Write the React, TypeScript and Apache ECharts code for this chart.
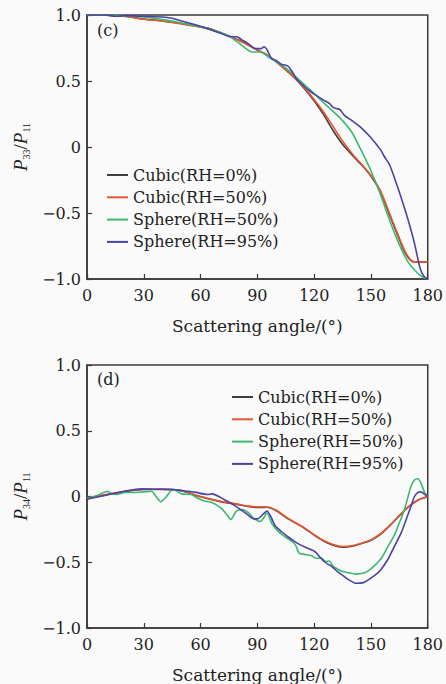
import React, { useEffect, useRef } from 'react';
import * as echarts from 'echarts';

// ---------- axis ticks / names ----------
const xTickInterval = 30;
const xMin = 0;
const xMax = 180;
const yMin = -1;
const yMax = 1;
const yTickInterval = 0.5;
const xAxisTitle = 'Scattering angle/(°)';
const panelLabels = ['(c)', '(d)'];
const seriesNames = ['Cubic(RH=0%)', 'Cubic(RH=50%)', 'Sphere(RH=50%)', 'Sphere(RH=95%)'];

// ---------- panel (c): P33/P11 ----------
const p33CubicDryAngles = [0, 10, 20, 30, 40, 50, 60, 65, 70, 76, 80, 85, 90, 95, 100, 105, 110, 115, 120, 125, 130, 135, 140, 145, 150, 155, 160, 165, 168, 171, 173, 180];
const p33CubicDryValues = [1.0, 0.998, 0.99, 0.97, 0.955, 0.935, 0.91, 0.895, 0.87, 0.836, 0.81, 0.775, 0.735, 0.7, 0.645, 0.585, 0.52, 0.44, 0.35, 0.245, 0.125, 0.02, -0.06, -0.135, -0.22, -0.34, -0.52, -0.7, -0.8, -0.86, -0.87, -0.87];

const p33CubicWetAngles = [0, 10, 20, 30, 40, 50, 60, 65, 70, 76, 80, 85, 90, 95, 100, 105, 110, 115, 120, 125, 130, 135, 140, 145, 150, 155, 160, 165, 168, 171, 173, 180];
const p33CubicWetValues = [1.0, 0.998, 0.99, 0.968, 0.953, 0.933, 0.908, 0.893, 0.868, 0.834, 0.808, 0.773, 0.733, 0.698, 0.645, 0.585, 0.52, 0.445, 0.36, 0.265, 0.155, 0.045, -0.05, -0.13, -0.215, -0.33, -0.51, -0.69, -0.79, -0.855, -0.87, -0.87];

const p33SphereWetAngles = [0, 10, 20, 30, 40, 50, 60, 70, 75, 80, 84, 87, 92, 96, 100, 105, 110, 115, 120, 125, 130, 135, 140, 145, 150, 155, 160, 165, 170, 175, 178, 180];
const p33SphereWetValues = [1.0, 1.0, 0.995, 0.985, 0.965, 0.94, 0.91, 0.87, 0.84, 0.79, 0.745, 0.72, 0.72, 0.68, 0.645, 0.6, 0.535, 0.47, 0.405, 0.335, 0.27, 0.2, 0.11, -0.03, -0.18, -0.36, -0.56, -0.74, -0.88, -0.96, -0.99, -1.0];

const p33SphereHumidAngles = [0, 10, 15, 20, 30, 40, 45, 50, 60, 70, 76, 79, 82, 85, 88, 90, 92, 93.5, 95, 97.5, 100, 103, 106, 108, 111, 114, 117, 120, 125, 128, 130, 132, 133.5, 136, 140, 143, 146, 150, 155, 157, 160, 164, 167, 170, 173, 176, 178, 180];
const p33SphereHumidValues = [1.0, 1.0, 0.99, 0.995, 0.99, 0.985, 0.975, 0.955, 0.915, 0.865, 0.835, 0.835, 0.81, 0.785, 0.75, 0.745, 0.745, 0.76, 0.74, 0.67, 0.655, 0.625, 0.615, 0.58, 0.51, 0.47, 0.43, 0.4, 0.355, 0.33, 0.3, 0.29, 0.285, 0.24, 0.2, 0.167, 0.13, 0.07, -0.02, -0.07, -0.14, -0.3, -0.43, -0.57, -0.73, -0.92, -0.98, -1.0];

// ---------- panel (d): P34/P11 ----------
const p34CubicDryAngles = [0, 10, 20, 30, 40, 45, 50, 60, 70, 80, 85, 90, 95, 100, 105, 110, 115, 120, 125, 130, 135, 140, 145, 150, 155, 160, 165, 170, 175, 180];
const p34CubicDryValues = [-0.015, 0.012, 0.038, 0.053, 0.055, 0.052, 0.043, -0.002, -0.037, -0.062, -0.075, -0.083, -0.082, -0.108, -0.158, -0.2, -0.243, -0.293, -0.338, -0.37, -0.385, -0.378, -0.357, -0.332, -0.287, -0.222, -0.147, -0.077, -0.027, -0.002];

const p34CubicWetAngles = [0, 10, 20, 30, 40, 45, 50, 60, 70, 80, 85, 90, 95, 100, 105, 110, 115, 120, 125, 130, 135, 140, 145, 150, 155, 160, 165, 170, 175, 180];
const p34CubicWetValues = [-0.01, 0.015, 0.04, 0.055, 0.055, 0.053, 0.045, 0.0, -0.035, -0.06, -0.073, -0.08, -0.08, -0.105, -0.155, -0.2, -0.24, -0.29, -0.335, -0.365, -0.38, -0.375, -0.355, -0.33, -0.285, -0.22, -0.145, -0.075, -0.025, 0.0];

const p34SphereWetAngles = [0, 5, 11, 13, 15.5, 20, 25, 30, 34, 37, 39, 42, 45, 47, 50, 55, 58, 62, 66, 71, 74, 76, 79, 82, 85, 88, 91.5, 93.5, 95, 97.8, 100, 103, 106, 109, 110.5, 112, 115, 118.7, 121, 124, 126, 128, 130, 132.7, 135, 138, 142, 146.7, 150, 153, 155.5, 159, 162.5, 165, 167.7, 170, 171.2, 173, 174.7, 176.5, 178.2, 180];
const p34SphereWetValues = [-0.015, 0.005, 0.04, 0.02, 0.015, 0.03, 0.03, 0.035, 0.04, -0.01, -0.04, 0.0, 0.05, 0.045, 0.02, 0.015, -0.01, -0.035, -0.045, -0.09, -0.14, -0.175, -0.11, -0.1, -0.12, -0.165, -0.19, -0.16, -0.125, -0.21, -0.25, -0.29, -0.32, -0.35, -0.38, -0.43, -0.44, -0.45, -0.47, -0.47, -0.495, -0.49, -0.53, -0.555, -0.57, -0.58, -0.59, -0.58, -0.55, -0.51, -0.47, -0.38, -0.29, -0.2, -0.1, 0.02, 0.08, 0.125, 0.135, 0.1, 0.035, 0.0];

const p34SphereHumidAngles = [0, 10, 20, 28.7, 35, 44.4, 50, 57, 63.6, 66, 72.4, 77, 81.2, 85, 88.1, 90, 93, 95.1, 97, 99.5, 103, 106.5, 110, 113, 116, 120.5, 123, 125.8, 129, 132.7, 136, 139, 142.3, 146, 149, 152, 155, 159, 162, 166, 169, 171.2, 173, 174.7, 176.5, 178, 180];
const p34SphereHumidValues = [-0.02, 0.01, 0.04, 0.058, 0.055, 0.053, 0.045, 0.033, 0.015, 0.02, -0.023, -0.06, -0.1, -0.14, -0.17, -0.17, -0.135, -0.11, -0.15, -0.225, -0.27, -0.31, -0.345, -0.37, -0.39, -0.42, -0.46, -0.5, -0.53, -0.575, -0.61, -0.64, -0.66, -0.655, -0.63, -0.6, -0.56, -0.477, -0.39, -0.275, -0.16, -0.073, 0.0, 0.03, 0.035, 0.02, 0.0];

const seriesColors = ['#3d3d3d', '#e8562e', '#3cb96e', '#4a42a6'];

const zip = (xs: number[], ys: number[]) => xs.map((x, i) => [x, ys[i]]);

const FONT = '"DejaVu Serif", "Liberation Serif", serif';
const AXIS_COLOR = '#3a3a3a';
const TEXT_COLOR = '#222';

const fmtY = (v: number) => (v === 0 ? '0' : (v < 0 ? '\u2212' : '') + Math.abs(v).toFixed(1));

function makeXAxis(gridIndex: number) {
  return {
    gridIndex,
    type: 'value',
    min: xMin,
    max: xMax,
    interval: xTickInterval,
    axisLine: { show: true, onZero: false, lineStyle: { color: AXIS_COLOR, width: 1.5 } },
    axisTick: { show: true, inside: true, length: 5, lineStyle: { color: AXIS_COLOR, width: 1.2 } },
    axisLabel: { fontFamily: FONT, fontSize: 16, color: TEXT_COLOR, margin: 8 },
    splitLine: { show: false },
    name: xAxisTitle,
    nameLocation: 'middle',
    nameGap: 38,
    nameTextStyle: { fontFamily: FONT, fontSize: 17, color: TEXT_COLOR },
  };
}

function makeYAxis(gridIndex: number, sub: string) {
  return {
    gridIndex,
    type: 'value',
    min: yMin,
    max: yMax,
    interval: yTickInterval,
    axisLine: { show: true, onZero: false, lineStyle: { color: AXIS_COLOR, width: 1.5 } },
    axisTick: { show: true, inside: true, length: 5, lineStyle: { color: AXIS_COLOR, width: 1.2 } },
    axisLabel: { fontFamily: FONT, fontSize: 16, color: TEXT_COLOR, margin: 6, formatter: fmtY },
    splitLine: { show: false },
    name: `{p|P}{s|${sub}}{n|/}{p|P}{s|11}`,
    nameLocation: 'middle',
    nameRotate: 90,
    nameGap: 56,
    nameTextStyle: {
      rich: {
        p: { fontFamily: '"Liberation Serif", serif', fontStyle: 'italic', fontSize: 19, color: TEXT_COLOR, lineHeight: 22 },
        s: { fontFamily: '"Liberation Serif", serif', fontSize: 10, color: TEXT_COLOR, lineHeight: 10, verticalAlign: 'bottom' },
        n: { fontFamily: '"Liberation Serif", serif', fontSize: 19, color: TEXT_COLOR, lineHeight: 22 },
      },
    },
  };
}

function makeLegend(left: number, top: number) {
  return {
    orient: 'vertical',
    left,
    top,
    padding: 0,
    itemWidth: 21,
    itemHeight: 2,
    itemGap: 2.3,
    icon: 'rect',
    selectedMode: false,
    textStyle: { fontFamily: FONT, fontSize: 16, color: TEXT_COLOR, lineHeight: 20 },
    data: seriesNames,
  };
}

function line(name: string, color: string, xs: number[], ys: number[], axis: number) {
  return {
    type: 'line',
    name,
    xAxisIndex: axis,
    yAxisIndex: axis,
    data: zip(xs, ys),
    showSymbol: false,
    symbol: 'none',
    smooth: 0.25,
    lineStyle: { color, width: 1.6 },
    itemStyle: { color },
  };
}

export default function App() {
  const ref = useRef<HTMLDivElement>(null);
  useEffect(() => {
    if (!ref.current) return;
    const chart = echarts.init(ref.current, undefined, { renderer: 'svg' });
    const gridStyle = { show: true, borderColor: AXIS_COLOR, borderWidth: 1.5, backgroundColor: 'transparent' };
    chart.setOption({
      animation: false,
      backgroundColor: '#fafafa',
      grid: [
        { left: 87, top: 15, width: 343, height: 264, ...gridStyle },
        { left: 87, top: 365, width: 343, height: 264, ...gridStyle },
      ],
      xAxis: [makeXAxis(0), makeXAxis(1)],
      yAxis: [makeYAxis(0, '33'), makeYAxis(1, '34')],
      legend: [makeLegend(107, 165), makeLegend(232, 387)],
      graphic: [
        { type: 'text', left: 97, top: 22, style: { text: panelLabels[0], font: `16px ${FONT}`, fill: TEXT_COLOR } },
        { type: 'text', left: 97, top: 371, style: { text: panelLabels[1], font: `16px ${FONT}`, fill: TEXT_COLOR } },
      ],
      series: [
        line(seriesNames[0], seriesColors[0], p33CubicDryAngles, p33CubicDryValues, 0),
        line(seriesNames[1], seriesColors[1], p33CubicWetAngles, p33CubicWetValues, 0),
        line(seriesNames[2], seriesColors[2], p33SphereWetAngles, p33SphereWetValues, 0),
        line(seriesNames[3], seriesColors[3], p33SphereHumidAngles, p33SphereHumidValues, 0),
        line(seriesNames[0], seriesColors[0], p34CubicDryAngles, p34CubicDryValues, 1),
        line(seriesNames[1], seriesColors[1], p34CubicWetAngles, p34CubicWetValues, 1),
        line(seriesNames[2], seriesColors[2], p34SphereWetAngles, p34SphereWetValues, 1),
        line(seriesNames[3], seriesColors[3], p34SphereHumidAngles, p34SphereHumidValues, 1),
      ],
    });
    return () => chart.dispose();
  }, []);
  return <div ref={ref} style={{ position: 'absolute', left: 0, top: 0, width: 446, height: 684 }} />;
}
